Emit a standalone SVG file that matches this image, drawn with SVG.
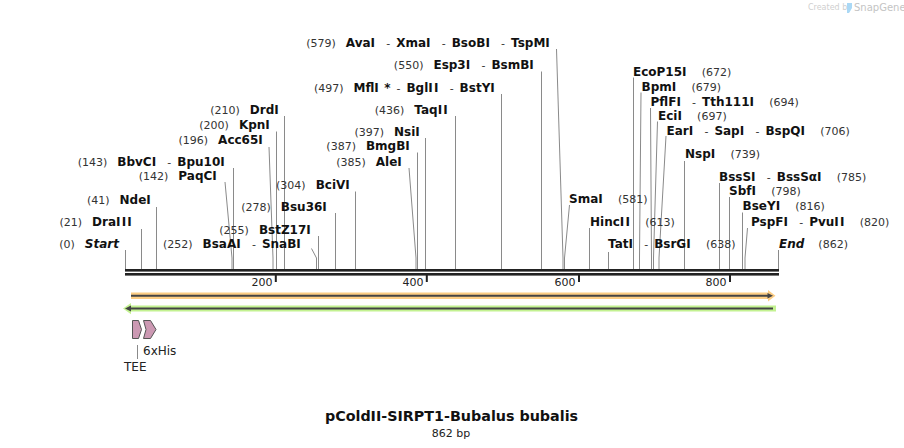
<svg xmlns="http://www.w3.org/2000/svg" width="904" height="448" viewBox="0 0 904 448">
<style>
text{font-family:"DejaVu Sans","Noto Sans",sans-serif}
.b{font-size:12px;font-weight:bold;fill:#111}
.bi{font-size:12px;font-weight:bold;font-style:italic;fill:#111}
.n{font-size:11px;fill:#333}
.I{letter-spacing:1.2px}
.l{text-anchor:end}
.ln{stroke:#8a8a8a;stroke-width:1;fill:none}
.tk{font-size:11px;fill:#222;text-anchor:end}
.ft{font-size:12px;fill:#222}
.pk{fill:#cc99b3;stroke:#555;stroke-width:1}
</style>
<rect width="904" height="448" fill="#fff"/>
<g id="watermark">
<text x="808" y="10" style="font-size:8px;fill:#cfcfcf">Created by</text>
<path d="M847,3 h5 v5 l-3,5 h-2 z" fill="#aad8f5"/>
<text x="854" y="11" style="font-size:10px;fill:#c4c4c4">SnapGene</text>
</g>
<g id="connectors">
<path class="ln" d="M125.5,250V269"/>
<path class="ln" d="M141.5,229V269"/>
<path class="ln" d="M156.5,207V269"/>
<path class="ln" d="M225,182L232,258V269"/>
<path class="ln" d="M233.5,168V269"/>
<path class="ln" d="M269,147L273,258V269"/>
<path class="ln" d="M276.5,131.5V269"/>
<path class="ln" d="M284.5,116V269"/>
<path class="ln" d="M311.5,248.5L316.5,258V269"/>
<path class="ln" d="M318.5,236V269"/>
<path class="ln" d="M335.5,213V269"/>
<path class="ln" d="M355.5,191.5V269"/>
<path class="ln" d="M409,168L416,258V269"/>
<path class="ln" d="M417.5,152.5V269"/>
<path class="ln" d="M425.5,138V269"/>
<path class="ln" d="M455.5,116V269"/>
<path class="ln" d="M501.5,94V269"/>
<path class="ln" d="M541.5,71.5V269"/>
<path class="ln" d="M556.5,49L563,258V269"/>
<path class="ln" d="M569.5,205L564.5,258V269"/>
<path class="ln" d="M589.5,228V269"/>
<path class="ln" d="M608.5,252V269"/>
<path class="ln" d="M633.5,77.5V269"/>
<path class="ln" d="M641,92.5L639.5,258V269"/>
<path class="ln" d="M650.5,108L651.5,258V269"/>
<path class="ln" d="M657.5,121.5L653.5,258V269"/>
<path class="ln" d="M666,136L659,258V269"/>
<path class="ln" d="M684.5,161V269"/>
<path class="ln" d="M719.5,183V269"/>
<path class="ln" d="M729.5,197V269"/>
<path class="ln" d="M742.5,212.5V269"/>
<path class="ln" d="M747.5,228L745,258V269"/>
<path class="ln" d="M778.5,250V269"/>
</g>
<g id="backbone">
<rect x="125" y="269" width="654" height="2.6" fill="#222"/>
<rect x="125" y="273" width="654" height="2.6" fill="#222"/>
<rect x="274.8" y="275" width="2" height="7" fill="#222"/>
<rect x="425.8" y="275" width="2" height="7" fill="#222"/>
<rect x="578" y="275" width="2" height="7" fill="#222"/>
<rect x="729" y="275" width="2" height="7" fill="#222"/>
<text class="tk" x="272.5" y="286">200</text>
<text class="tk" x="423.5" y="286">400</text>
<text class="tk" x="575.5" y="286">600</text>
<text class="tk" x="726.5" y="286">800</text>
</g>
<g id="lbl-579"><text class="l" x="551" y="47"><tspan class="n">(579)</tspan><tspan class="b" dx="10">Ava<tspan class="I">I</tspan></tspan><tspan class="n" dx="10">-</tspan><tspan class="b" dx="6">Xma<tspan class="I">I</tspan></tspan><tspan class="n" dx="10">-</tspan><tspan class="b" dx="6">BsoB<tspan class="I">I</tspan></tspan><tspan class="n" dx="10">-</tspan><tspan class="b" dx="6">TspM<tspan class="I">I</tspan></tspan></text></g>
<g id="lbl-550"><text class="l" x="535" y="69"><tspan class="n">(550)</tspan><tspan class="b" dx="10">Esp3<tspan class="I">I</tspan></tspan><tspan class="n" dx="10">-</tspan><tspan class="b" dx="6">BsmB<tspan class="I">I</tspan></tspan></text></g>
<g id="lbl-497"><text class="l" x="496" y="92"><tspan class="n">(497)</tspan><tspan class="b" dx="10">Mfl<tspan class="I">I</tspan> *</tspan><tspan class="n" dx="6">-</tspan><tspan class="b" dx="6">Bgl<tspan class="I">II</tspan></tspan><tspan class="n" dx="10">-</tspan><tspan class="b" dx="6">BstY<tspan class="I">I</tspan></tspan></text></g>
<g id="lbl-436"><text class="l" x="449" y="113.5"><tspan class="n">(436)</tspan><tspan class="b" dx="10">Taq<tspan class="I">II</tspan></tspan></text></g>
<g id="lbl-210"><text class="l" x="280" y="113.5"><tspan class="n">(210)</tspan><tspan class="b" dx="10">Drd<tspan class="I">I</tspan></tspan></text></g>
<g id="lbl-200"><text class="l" x="271" y="129"><tspan class="n">(200)</tspan><tspan class="b" dx="10">Kpn<tspan class="I">I</tspan></tspan></text></g>
<g id="lbl-397"><text class="l" x="421" y="135.5"><tspan class="n">(397)</tspan><tspan class="b" dx="10">Nsi<tspan class="I">I</tspan></tspan></text></g>
<g id="lbl-196"><text class="l" x="264" y="144"><tspan class="n">(196)</tspan><tspan class="b" dx="10">Acc65<tspan class="I">I</tspan></tspan></text></g>
<g id="lbl-387"><text class="l" x="411" y="150"><tspan class="n">(387)</tspan><tspan class="b" dx="10">BmgB<tspan class="I">I</tspan></tspan></text></g>
<g id="lbl-385"><text class="l" x="403" y="165.5"><tspan class="n">(385)</tspan><tspan class="b" dx="10">Ale<tspan class="I">I</tspan></tspan></text></g>
<g id="lbl-143"><text class="l" x="226" y="165.5"><tspan class="n">(143)</tspan><tspan class="b" dx="10">BbvC<tspan class="I">I</tspan></tspan><tspan class="n" dx="10">-</tspan><tspan class="b" dx="6">Bpu10<tspan class="I">I</tspan></tspan></text></g>
<g id="lbl-142"><text class="l" x="218" y="180"><tspan class="n">(142)</tspan><tspan class="b" dx="10">PaqC<tspan class="I">I</tspan></tspan></text></g>
<g id="lbl-304"><text class="l" x="351" y="189"><tspan class="n">(304)</tspan><tspan class="b" dx="10">BciV<tspan class="I">I</tspan></tspan></text></g>
<g id="lbl-41"><text class="l" x="152" y="204"><tspan class="n">(41)</tspan><tspan class="b" dx="10">Nde<tspan class="I">I</tspan></tspan></text></g>
<g id="lbl-278"><text class="l" x="328" y="211"><tspan class="n">(278)</tspan><tspan class="b" dx="10">Bsu36<tspan class="I">I</tspan></tspan></text></g>
<g id="lbl-21"><text class="l" x="133" y="226"><tspan class="n">(21)</tspan><tspan class="b" dx="10">Dra<tspan class="I">III</tspan></tspan></text></g>
<g id="lbl-255"><text class="l" x="312" y="233.5"><tspan class="n">(255)</tspan><tspan class="b" dx="10">BstZ17<tspan class="I">I</tspan></tspan></text></g>
<g id="lbl-0"><text class="l" x="119" y="248"><tspan class="n">(0)</tspan><tspan class="bi" dx="10">Start</tspan></text></g>
<g id="lbl-252"><text class="l" x="302" y="248"><tspan class="n">(252)</tspan><tspan class="b" dx="10">BsaA<tspan class="I">I</tspan></tspan><tspan class="n" dx="10">-</tspan><tspan class="b" dx="6">SnaB<tspan class="I">I</tspan></tspan></text></g>
<g id="lbl-672"><text x="633" y="75.5"><tspan class="b">EcoP15<tspan class="I">I</tspan></tspan><tspan class="n" dx="14">(672)</tspan></text></g>
<g id="lbl-679"><text x="641.5" y="90.5"><tspan class="b">Bpm<tspan class="I">I</tspan></tspan><tspan class="n" dx="14">(679)</tspan></text></g>
<g id="lbl-694"><text x="650.5" y="105.5"><tspan class="b">PflF<tspan class="I">I</tspan></tspan><tspan class="n" dx="10">-</tspan><tspan class="b" dx="6">Tth111<tspan class="I">I</tspan></tspan><tspan class="n" dx="14">(694)</tspan></text></g>
<g id="lbl-697"><text x="658" y="120"><tspan class="b">Eci<tspan class="I">I</tspan></tspan><tspan class="n" dx="14">(697)</tspan></text></g>
<g id="lbl-706"><text x="666.5" y="135"><tspan class="b">Ear<tspan class="I">I</tspan></tspan><tspan class="n" dx="10">-</tspan><tspan class="b" dx="6">Sap<tspan class="I">I</tspan></tspan><tspan class="n" dx="10">-</tspan><tspan class="b" dx="6">BspQ<tspan class="I">I</tspan></tspan><tspan class="n" dx="14">(706)</tspan></text></g>
<g id="lbl-739"><text x="685" y="158"><tspan class="b">Nsp<tspan class="I">I</tspan></tspan><tspan class="n" dx="14">(739)</tspan></text></g>
<g id="lbl-785"><text x="719" y="181"><tspan class="b">BssS<tspan class="I">I</tspan></tspan><tspan class="n" dx="10">-</tspan><tspan class="b" dx="6">BssSα<tspan class="I">I</tspan></tspan><tspan class="n" dx="14">(785)</tspan></text></g>
<g id="lbl-798"><text x="729" y="195"><tspan class="b">Sbf<tspan class="I">I</tspan></tspan><tspan class="n" dx="14">(798)</tspan></text></g>
<g id="lbl-816"><text x="742.5" y="210"><tspan class="b">BseY<tspan class="I">I</tspan></tspan><tspan class="n" dx="14">(816)</tspan></text></g>
<g id="lbl-820"><text x="751" y="225.5"><tspan class="b">PspF<tspan class="I">I</tspan></tspan><tspan class="n" dx="10">-</tspan><tspan class="b" dx="6">Pvu<tspan class="I">II</tspan></tspan><tspan class="n" dx="14">(820)</tspan></text></g>
<g id="lbl-581"><text x="569" y="203"><tspan class="b">Sma<tspan class="I">I</tspan></tspan><tspan class="n" dx="14">(581)</tspan></text></g>
<g id="lbl-613"><text x="590" y="225.5"><tspan class="b">Hinc<tspan class="I">II</tspan></tspan><tspan class="n" dx="14">(613)</tspan></text></g>
<g id="lbl-638"><text x="608" y="248"><tspan class="b">Tat<tspan class="I">I</tspan></tspan><tspan class="n" dx="10">-</tspan><tspan class="b" dx="6">BsrG<tspan class="I">I</tspan></tspan><tspan class="n" dx="14">(638)</tspan></text></g>
<g id="lbl-862"><text x="779" y="248"><tspan class="bi">End</tspan><tspan class="n" dx="14">(862)</tspan></text></g>
<g id="feature-orange">
<path d="M131,292.6H768V290L775.5,295.8L768,301.6V299H131Z" fill="#fccd84"/>
<path d="M131,295.8H769" stroke="#444" stroke-width="2"/>
<path d="M767.5,293L773,295.8L767.5,298.6Z" fill="#444"/>
</g>
<g id="feature-green">
<path d="M776,305.6H131V303L123,308.6L131,314.2V311.6H776Z" fill="#c3f291"/>
<path d="M130,308.6H773" stroke="#444" stroke-width="2"/>
<path d="M125,308.6L131,305.6V311.6Z" fill="#444"/>
</g>
<g id="feature-TEE">
<path class="pk" d="M132.5,320.5H138.5L141.5,329.5L138.5,338.5H132.5Z"/>
<path class="ln" d="M137.5,345V359"/>
<text class="ft" x="124" y="371">TEE</text>
</g>
<g id="feature-6xHis">
<path class="pk" d="M143.5,320.5H150.5L156,329.5L150.5,338.5H143.5L146,329.5Z"/>
<text class="ft" x="143" y="355">6xHis</text>
</g>
<g id="title">
<text x="451.5" y="421" style="font-size:14.3px;font-weight:bold;fill:#111;text-anchor:middle">pColdII-SIRPT1-Bubalus bubalis</text>
<text x="451" y="437" style="font-size:11px;fill:#222;text-anchor:middle">862 bp</text>
</g>
</svg>
